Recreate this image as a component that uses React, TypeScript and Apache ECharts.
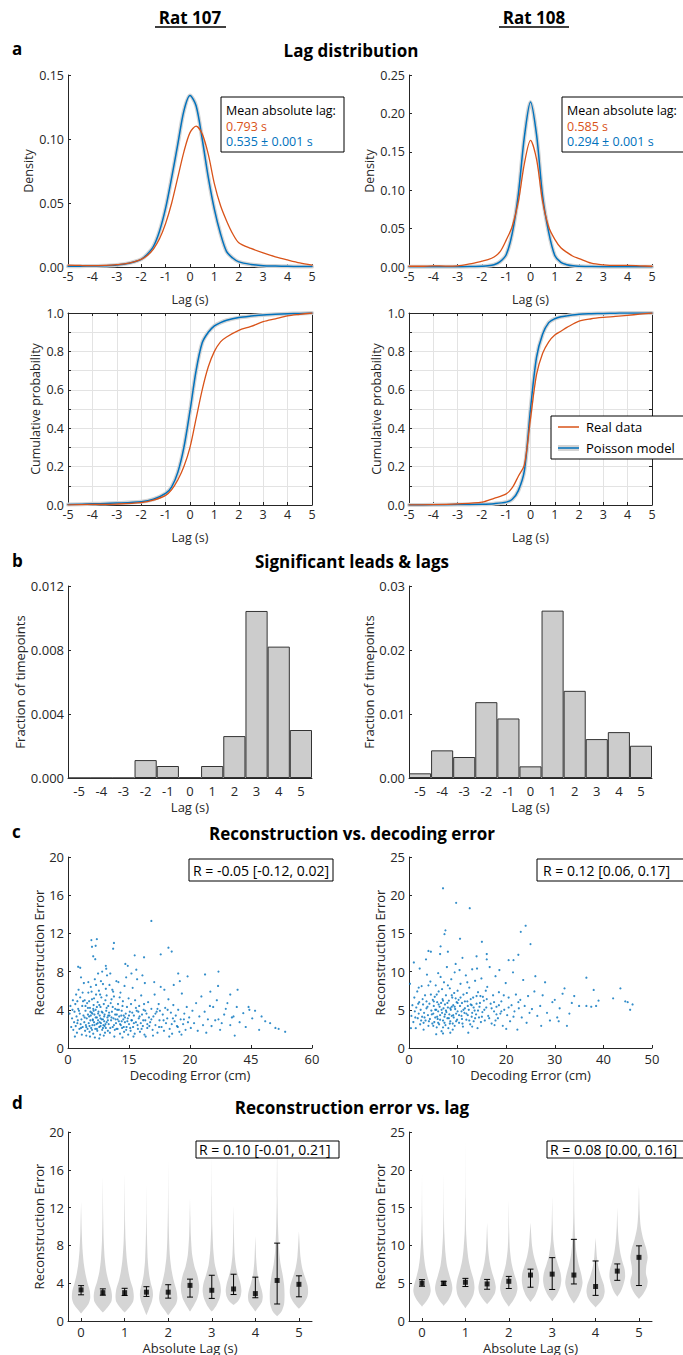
import React, { useEffect, useRef } from "react";
import * as echarts from "echarts";

const FONT = "'Open Sans', 'Noto Sans', sans-serif";
const AX = "#262626";
const BLUE = "#0072BD";
const ORANGE = "#D95319";
const BAND = "#d4d4d4";
const VIOLIN = "#d5d5d5";

// ---------- Panel a: lag density ----------
const densityLag = [-5, -4.5, -4, -3.5, -3, -2.5, -2, -1.75, -1.5, -1.25, -1, -0.75, -0.5, -0.25, 0, 0.25, 0.5, 0.75, 1, 1.25, 1.5, 1.75, 2, 2.5, 3, 3.5, 4, 4.5, 5];
const density107Model = [0.0005, 0.0006, 0.0008, 0.001, 0.0015, 0.003, 0.006, 0.01, 0.016, 0.028, 0.046, 0.07, 0.096, 0.122, 0.134, 0.126, 0.1, 0.07, 0.045, 0.026, 0.012, 0.007, 0.004, 0.002, 0.001, 0.0007, 0.0005, 0.0004, 0.0003];
const density107Real = [0.0015, 0.0012, 0.001, 0.0012, 0.0018, 0.003, 0.006, 0.009, 0.014, 0.022, 0.034, 0.05, 0.07, 0.09, 0.105, 0.11, 0.104, 0.088, 0.065, 0.048, 0.036, 0.026, 0.019, 0.0145, 0.011, 0.008, 0.0055, 0.0032, 0.0015];
const density108Model = [0.0003, 0.0003, 0.0003, 0.0003, 0.0004, 0.0005, 0.001, 0.0015, 0.003, 0.007, 0.016, 0.044, 0.095, 0.17, 0.215, 0.172, 0.092, 0.045, 0.015, 0.006, 0.003, 0.0015, 0.001, 0.0005, 0.0003, 0.0003, 0.0003, 0.0003, 0.0003];
const density108Real = [0.001, 0.001, 0.0015, 0.0012, 0.0015, 0.004, 0.0075, 0.0095, 0.013, 0.02, 0.035, 0.053, 0.085, 0.135, 0.165, 0.14, 0.085, 0.052, 0.036, 0.025, 0.019, 0.014, 0.011, 0.005, 0.0028, 0.002, 0.002, 0.0015, 0.001];

// ---------- Panel a: cumulative ----------
const cdfLag = [-5, -4, -3, -2, -1.5, -1, -0.75, -0.5, -0.25, 0, 0.25, 0.5, 0.75, 1, 1.25, 1.5, 2, 2.5, 3, 3.5, 4, 4.5, 5];
const cdf107Model = [0.002, 0.006, 0.01, 0.017, 0.03, 0.06, 0.095, 0.17, 0.3, 0.49, 0.7, 0.845, 0.9, 0.933, 0.95, 0.962, 0.976, 0.984, 0.99, 0.993, 0.996, 0.998, 1.0];
const cdf107Real = [0.001, 0.003, 0.005, 0.012, 0.025, 0.05, 0.08, 0.13, 0.2, 0.3, 0.45, 0.6, 0.72, 0.8, 0.85, 0.875, 0.91, 0.93, 0.955, 0.97, 0.985, 0.993, 1.0];
const cdf108Model = [0, 0.001, 0.002, 0.004, 0.007, 0.015, 0.03, 0.075, 0.18, 0.5, 0.77, 0.89, 0.95, 0.97, 0.98, 0.985, 0.993, 0.996, 0.998, 0.999, 1, 1, 1];
const cdf108Real = [0.001, 0.002, 0.006, 0.015, 0.035, 0.058, 0.09, 0.15, 0.21, 0.45, 0.68, 0.79, 0.85, 0.885, 0.905, 0.925, 0.958, 0.97, 0.977, 0.982, 0.988, 0.994, 1.0];

// ---------- Panel b: significant leads & lags ----------
const barLags = ["-5", "-4", "-3", "-2", "-1", "0", "1", "2", "3", "4", "5"];
const bar107 = [0, 0, 0, 0.00112, 0.00075, 0.00003, 0.00075, 0.00262, 0.01044, 0.00821, 0.003];
const bar108 = [0.00073, 0.00432, 0.00328, 0.01185, 0.0093, 0.00182, 0.02615, 0.01362, 0.00608, 0.00717, 0.00504];

// ---------- Panel c: reconstruction vs decoding error ----------
const cLeftXTicks = ["0", "15", "20", "45", "60"];
const scatter107: number[][] = [
  [0.6,4.4],[0.8,2.2],[1.0,3.1],[1.2,5.0],[1.3,1.9],[1.5,2.7],[1.6,3.8],[1.8,4.6],[1.9,2.3],[2.1,3.3],[2.2,1.6],[2.4,2.9],[2.5,4.1],[2.6,6.1],[2.8,2.0],[2.9,3.6],[3.0,5.3],[3.1,2.5],[3.3,3.0],[3.4,1.4],[3.5,4.4],[3.6,2.2],[3.8,3.4],[3.9,6.8],[4.0,2.7],[4.1,5.0],[4.2,1.8],[4.3,3.9],[4.4,2.4],[4.6,3.1],[4.7,4.7],[4.8,2.0],[4.9,3.5],[5.0,5.8],[0.4,3.6],[1.1,4.0],[2.0,5.6],[3.2,7.4],[1.7,1.2],[4.5,1.3],
  [5.1,2.6],[5.2,3.3],[5.3,1.7],[5.4,4.2],[5.5,2.9],[5.6,6.4],[5.7,2.1],[5.8,3.7],[5.9,5.1],[6.0,2.4],[6.1,3.0],[6.2,1.5],[6.3,4.5],[6.4,2.7],[6.5,3.5],[6.6,7.2],[6.7,2.0],[6.8,4.0],[6.9,5.6],[7.0,2.5],[7.1,3.2],[7.2,1.8],[7.3,4.8],[7.4,2.9],[7.5,3.8],[7.6,6.0],[7.7,2.2],[7.8,3.4],[7.9,1.4],[8.0,4.3],[8.1,2.6],[8.2,5.3],[8.3,3.0],[8.4,1.9],[8.5,3.7],[8.6,6.7],[8.7,2.4],[8.8,4.6],[8.9,2.8],[9.0,3.5],[9.1,1.6],[9.2,5.0],[9.3,2.1],[9.4,3.9],[9.5,2.7],[9.6,7.6],[9.7,3.2],[9.8,1.8],[9.9,4.4],[5.4,1.2],[6.6,1.1],[7.7,1.0],[8.8,1.3],[5.8,5.9],[6.9,6.6],[7.4,7.8],[8.4,8.0],[9.3,6.2],[5.2,4.9],[6.3,3.9],[7.8,2.7],[9.0,2.3],[8.0,3.1],[6.0,3.6],[7.1,4.3],
  [10.0,2.5],[10.2,3.4],[10.3,1.6],[10.5,4.7],[10.6,2.9],[10.8,3.8],[10.9,6.1],[11.0,2.2],[11.2,3.1],[11.3,5.4],[11.5,1.9],[11.6,4.1],[11.8,2.6],[11.9,7.0],[12.0,3.5],[12.2,2.0],[12.3,4.6],[12.5,2.8],[12.6,3.3],[12.8,1.5],[12.9,5.8],[13.0,2.4],[13.2,3.9],[13.3,2.1],[13.5,4.9],[13.6,3.0],[13.8,1.7],[13.9,6.5],[14.0,2.7],[14.2,3.6],[14.4,2.2],[14.5,4.3],[14.7,3.1],[14.8,1.4],[14.9,5.2],[10.4,7.8],[11.4,1.2],[12.4,6.9],[13.4,1.1],[14.3,7.4],[10.7,5.1],[12.1,4.0],[13.7,3.4],[11.7,3.0],
  [15.0,2.5],[15.2,3.8],[15.4,1.8],[15.5,4.6],[15.7,2.9],[15.9,6.3],[16.0,2.2],[16.2,3.4],[16.4,1.5],[16.5,5.0],[16.7,2.7],[16.9,3.9],[17.0,7.2],[17.2,2.0],[17.4,3.1],[17.5,4.4],[17.7,1.7],[17.9,2.6],[18.0,5.5],[18.2,3.5],[18.4,2.3],[18.6,4.0],[18.8,1.4],[18.9,6.8],[19.0,2.9],[19.3,3.6],[19.5,2.1],[19.7,4.8],[19.9,3.2],[15.6,7.8],[16.8,8.2],[18.3,7.6],[19.1,1.2],[16.1,1.2],
  [20.2,2.7],[20.5,4.1],[20.8,1.9],[21.0,3.3],[21.3,5.6],[21.5,2.4],[21.8,3.8],[22.0,1.6],[22.3,4.6],[22.5,2.9],[22.8,6.4],[23.0,2.2],[23.3,3.5],[23.6,1.8],[23.9,4.2],[24.1,2.6],[24.4,3.1],[24.7,5.1],[25.0,2.0],[25.3,3.7],[25.6,1.5],[25.9,4.5],[26.2,2.8],[26.5,3.4],[26.8,2.3],[27.1,4.0],[27.4,1.7],[27.7,3.0],[28.0,5.7],[28.3,2.5],[28.6,3.6],[28.9,1.9],[29.2,4.3],[29.5,2.7],[29.8,3.2],[21.2,6.9],[23.7,6.1],[26.0,6.6],[20.9,1.3],[24.9,1.2],[27.9,1.4],[22.6,3.9],[25.5,2.5],
  [30.2,2.1],[30.6,3.9],[31.0,2.6],[31.5,4.7],[31.9,1.8],[32.3,3.3],[32.8,5.4],[33.2,2.4],[33.6,3.8],[34.0,1.6],[34.4,3.0],[34.9,4.4],[35.3,2.3],[35.7,4.3],[36.2,2.9],[36.6,5.0],[37.0,3.0],[37.4,1.9],[37.8,2.6],[38.4,3.5],[38.8,4.1],[39.2,4.7],[39.9,2.4],[40.3,3.2],[40.7,3.3],[41.0,1.3],[41.5,4.3],[41.7,6.1],[42.2,2.7],[43.1,3.65],[43.7,2.2],[44.4,4.3],[44.6,4.0],[45.3,3.1],[46.0,3.9],[47.0,1.9],[47.6,3.3],[48.5,2.8],[49.7,2.6],[51.0,2.1],[51.8,2.0],[53.4,1.7],[39.9,5.6],[36.9,6.5],[35.0,5.9],
  [5.75,11.3],[7.1,11.4],[5.9,10.6],[6.8,10.7],[11.3,11.0],[11.1,10.4],[20.5,13.3],[24.7,10.5],[25.5,10.1],[22.8,9.8],[16.4,9.7],[18.7,9.5],[6.2,9.6],[6.7,9.3],[9.3,8.6],[9.4,8.3],[2.5,8.5],[3.0,8.4],[14.1,8.8],[14.7,8.6],[33.7,7.7],[37.0,8.0],[29.4,7.5],[27.5,7.0],[27.1,7.8],
  [2.3,2.6],[2.7,3.9],[3.2,2.1],[3.7,4.9],[4.1,3.2],[4.5,2.2],[4.9,4.2],[5.3,2.3],[5.6,3.4],[5.9,1.9],[6.2,4.1],[6.5,2.4],[6.8,3.2],[7.1,2.0],[7.4,3.6],[7.7,4.5],[8.0,2.3],[8.3,3.8],[8.6,2.1],[8.9,3.3],[9.2,2.5],[9.5,4.2],[9.8,2.9],[10.1,3.7],[10.4,2.1],[10.7,3.2],[11.0,4.3],[11.3,2.4],[11.6,3.5],[11.9,2.0],[12.2,3.0],[12.5,4.0],[12.8,2.5],[13.1,3.4],[13.4,4.4],[13.7,2.2],[14.0,3.2],[14.3,1.9],[14.6,2.8],[15.0,3.4],[15.3,2.1],[15.8,3.7],[16.2,2.6],[16.7,4.2],[17.1,2.4],[17.6,3.3],[18.1,2.0],[18.5,2.9],[19.0,3.9],[19.5,2.5],[20.5,3.0],[21.5,3.6],[22.4,2.2],[23.5,2.9],[24.5,4.0],[25.8,3.1],[27.0,2.2],[28.5,3.0],[6.4,5.2],[7.9,5.6],[9.5,5.5],[11.1,5.9],[12.7,5.3],[5.0,6.9],[8.1,7.0],[10.2,6.6],[3.6,5.8],[2.3,4.9],[6.1,2.9],[7.3,2.6],[8.6,3.0],[9.9,3.4],[4.3,4.4],[5.5,3.8],[13.2,2.8],[15.6,2.9],[17.3,3.8],[18.7,4.6],[20.0,2.3],[22.0,4.1],
];
const scatter108: number[][] = [
  [0.2,8.4],[0.5,4.2],[0.7,5.6],[0.9,3.4],[1.1,6.6],[1.2,4.8],[1.4,2.6],[1.5,5.3],[1.7,7.4],[1.8,3.9],[2.0,4.5],[2.1,6.0],[2.3,3.1],[2.4,5.0],[2.6,8.1],[2.7,4.1],[2.9,5.7],[3.0,2.4],[3.1,4.6],[3.3,6.9],[3.4,3.6],[3.6,5.2],[3.7,9.6],[3.9,4.3],[4.0,2.9],[4.2,5.8],[4.3,3.8],[4.5,7.0],[4.6,4.9],[4.8,3.2],[4.9,6.3],[1.0,11.2],[2.2,10.4],[3.5,11.6],[4.4,8.7],[0.4,2.6],
  [5.0,4.5],[5.1,5.5],[5.2,3.4],[5.3,6.7],[5.4,4.0],[5.5,8.2],[5.6,5.0],[5.7,2.7],[5.8,6.0],[5.9,3.8],[6.0,4.8],[6.1,7.4],[6.2,3.1],[6.3,5.4],[6.4,4.3],[6.5,9.3],[6.6,5.9],[6.7,2.2],[6.8,4.6],[6.9,6.4],[7.0,3.6],[7.1,5.2],[7.2,8.6],[7.3,4.1],[7.4,5.7],[7.5,3.0],[7.6,6.9],[7.7,4.7],[7.8,10.6],[7.9,3.9],[8.0,5.3],[8.1,2.6],[8.2,6.2],[8.3,4.4],[8.4,7.8],[8.5,3.5],[8.6,5.0],[8.7,9.0],[8.8,4.2],[8.9,6.6],[9.0,3.2],[9.1,5.6],[9.2,4.0],[9.3,7.2],[9.4,2.9],[9.5,5.1],[9.6,11.0],[9.7,4.5],[9.8,6.0],[9.9,3.7],[5.6,1.8],[7.0,1.9],[8.5,2.0],[6.4,12.3],[8.0,12.6],[9.4,9.9],[6.0,3.3],[7.4,4.4],[8.8,5.4],
  [10.0,4.8],[10.2,6.3],[10.3,3.3],[10.5,5.5],[10.6,8.4],[10.8,4.2],[10.9,5.9],[11.1,2.8],[11.2,7.0],[11.4,4.6],[11.5,5.2],[11.7,9.5],[11.8,3.7],[12.0,6.1],[12.1,4.3],[12.3,5.0],[12.4,7.9],[12.6,3.1],[12.7,5.7],[12.9,4.1],[13.0,10.3],[13.2,6.6],[13.3,3.5],[13.5,4.9],[13.6,8.8],[13.8,4.4],[13.9,5.8],[14.1,2.6],[14.2,7.3],[14.4,4.0],[14.5,5.4],[14.7,6.8],[14.8,3.4],[14.9,9.1],[11.0,11.8],[12.2,2.0],[13.9,12.0],[10.4,10.2],
  [15.1,4.7],[15.4,6.2],[15.6,3.6],[15.9,5.3],[16.1,8.0],[16.3,4.2],[16.6,10.6],[16.8,5.8],[17.0,3.2],[17.3,6.9],[17.5,4.8],[17.8,9.4],[18.0,5.4],[18.3,3.9],[18.5,7.3],[18.8,4.5],[19.0,6.1],[19.3,2.9],[19.6,5.0],[19.9,8.5],[20.2,4.3],[20.5,6.6],[20.8,3.5],[21.1,5.6],[21.4,9.9],[21.7,4.8],[22.0,7.0],[22.3,2.4],[22.6,5.2],[22.9,6.3],[23.2,4.0],[23.5,8.9],[23.8,5.5],[24.2,3.3],[24.5,6.8],[24.8,4.6],[16.0,11.6],[18.6,10.2],[20.0,2.5],[17.6,3.0],[15.8,7.5],
  [25.3,5.1],[25.8,7.4],[26.0,9.4],[26.4,4.2],[27.0,5.5],[27.5,6.9],[28.0,8.6],[28.4,4.6],[29.0,3.6],[29.5,6.0],[30.0,6.3],[30.5,4.0],[31.0,5.2],[31.6,7.1],[32.0,7.8],[32.5,2.9],[33.0,4.5],[33.5,5.9],[34.0,6.8],[35.0,5.5],[36.5,9.2],[36.5,5.5],[37.5,5.4],[38.0,7.6],[38.5,5.5],[39.0,6.2],[42.0,6.5],[43.5,7.8],[44.5,6.1],[45.0,6.0],[45.5,5.0],[46.0,5.7],[30.8,3.5],[27.2,2.9],
  [7.0,20.9],[9.7,19.0],[12.5,18.3],[24.0,16.0],[23.0,15.2],[7.5,15.4],[7.3,14.9],[15.0,13.9],[10.5,14.3],[4.0,12.7],[4.5,12.6],[6.5,13.3],[25.0,13.6],[22.5,12.2],[16.0,12.3],[20.5,11.5],[21.5,11.5],
  [1.3,4.0],[1.9,5.8],[2.5,3.6],[2.8,6.4],[3.2,4.0],[3.8,5.4],[4.1,3.5],[4.7,4.4],[5.1,6.1],[5.4,5.0],[5.8,4.1],[6.1,5.7],[6.4,3.7],[6.7,5.0],[7.0,6.2],[7.3,3.3],[7.6,4.9],[7.9,5.9],[8.2,3.9],[8.5,5.2],[8.8,6.9],[9.1,4.3],[9.4,5.4],[9.7,3.5],[10.0,5.9],[10.3,4.3],[10.6,6.6],[10.9,3.8],[11.2,5.0],[11.5,6.1],[11.8,4.5],[12.1,5.5],[12.4,3.6],[12.7,6.4],[13.0,4.6],[13.3,5.3],[13.6,3.9],[13.9,6.8],[14.2,4.9],[14.6,5.9],[15.0,4.1],[15.5,5.0],[16.0,6.4],[16.5,3.9],[17.0,5.2],[17.5,6.0],[18.0,4.4],[18.5,5.6],[19.0,4.8],[19.5,6.9],[20.5,5.3],[21.5,4.1],[22.5,6.0],[2.0,7.9],[4.0,8.2],[6.0,9.8],[8.0,8.2],[10.0,7.5],[12.0,8.6],[14.0,10.4],[3.0,3.3],[5.0,2.9],[7.0,2.7],[9.0,2.4],[11.0,3.2],[13.0,2.8],[6.8,7.7],[9.6,6.5],[11.9,7.2],[5.7,7.0],[3.6,6.1],[8.4,3.2],[10.8,4.8],[12.9,5.6],[15.2,6.7],[17.8,3.6],
];

// ---------- Panel d: reconstruction error vs lag (violins) ----------
const violinLag = [0, 0.5, 1, 1.5, 2, 2.5, 3, 3.5, 4, 4.5, 5];
const violin107Profiles: number[][][] = [
  [[0.8,0],[1.3,0.09],[1.8,0.17],[2.4,0.21],[3.2,0.2],[4.0,0.15],[5,0.1],[6,0.065],[7.5,0.035],[9.5,0.015],[12.6,0]],
  [[0.9,0],[1.4,0.1],[2.0,0.19],[2.6,0.21],[3.3,0.19],[4.2,0.13],[5.2,0.08],[6.5,0.045],[8.5,0.02],[11,0.008],[15.3,0]],
  [[0.9,0],[1.4,0.1],[2.0,0.19],[2.6,0.21],[3.4,0.19],[4.3,0.13],[5.3,0.085],[6.5,0.05],[8.5,0.022],[11,0.008],[15.6,0]],
  [[0.6,0],[1.3,0.06],[2.0,0.12],[2.7,0.15],[3.3,0.14],[4.0,0.1],[5,0.06],[6.5,0.03],[9,0.012],[11,0.005],[14.4,0]],
  [[0.6,0],[1.2,0.09],[1.8,0.18],[2.4,0.21],[3.2,0.19],[4.2,0.13],[5.3,0.08],[6.8,0.04],[9,0.018],[12,0.006],[17,0]],
  [[1.0,0],[1.6,0.08],[2.3,0.16],[3.0,0.2],[3.8,0.21],[4.8,0.17],[5.8,0.1],[7,0.05],[9,0.02],[11,0.008],[13,0]],
  [[1.0,0],[1.6,0.1],[2.4,0.18],[3.2,0.21],[4.0,0.19],[4.9,0.13],[6,0.07],[7.5,0.035],[10,0.012],[13,0.005],[17.5,0]],
  [[1.7,0],[2.1,0.1],[2.6,0.16],[3.2,0.18],[3.9,0.16],[4.7,0.11],[5.6,0.06],[7,0.025],[9,0.01],[12.3,0]],
  [[1.0,0],[1.5,0.08],[2.0,0.15],[2.6,0.17],[3.2,0.15],[4.0,0.1],[5,0.05],[6.5,0.02],[9,0]],
  [[0.5,0],[1.0,0.1],[1.8,0.16],[2.8,0.17],[3.8,0.16],[4.8,0.13],[6,0.08],[7.5,0.045],[10,0.02],[13,0.008],[19.5,0]],
  [[1.3,0],[1.8,0.1],[2.4,0.18],[3.0,0.21],[3.7,0.2],[4.5,0.15],[5.5,0.08],[6.8,0.035],[9.5,0]],
];
const violin107Mean = [3.29, 3.0, 3.0, 3.05, 3.05, 3.77, 3.25, 3.39, 2.9, 4.29, 3.88];
const violin107Lo = [2.77, 2.73, 2.7, 2.6, 2.42, 2.53, 2.39, 2.8, 2.46, 1.8, 2.56];
const violin107Hi = [3.74, 3.4, 3.46, 3.63, 3.84, 4.43, 4.84, 4.95, 4.64, 8.24, 4.78];

const violin108Profiles: number[][][] = [
  [[1.9,0],[2.6,0.1],[3.3,0.17],[4.0,0.2],[4.8,0.18],[5.8,0.13],[7,0.08],[8.5,0.045],[11,0.018],[14,0.006],[19.5,0]],
  [[2.0,0],[2.7,0.1],[3.5,0.17],[4.3,0.2],[5.1,0.18],[6.1,0.13],[7.3,0.075],[9,0.04],[11.5,0.015],[14.5,0.005],[19.5,0]],
  [[1.7,0],[2.5,0.1],[3.4,0.18],[4.4,0.21],[5.4,0.19],[6.6,0.13],[8,0.075],[9.7,0.04],[12,0.015],[16,0.005],[24,0]],
  [[2.2,0],[2.9,0.1],[3.7,0.18],[4.5,0.2],[5.4,0.17],[6.5,0.11],[7.8,0.06],[9.5,0.025],[13,0]],
  [[1.9,0],[2.7,0.1],[3.5,0.17],[4.3,0.2],[5.2,0.18],[6.3,0.12],[7.6,0.065],[9.5,0.025],[12,0.008],[16,0]],
  [[2.5,0],[3.3,0.1],[4.3,0.17],[5.3,0.2],[6.3,0.19],[7.3,0.14],[8.5,0.08],[10,0.035],[13,0]],
  [[2.6,0],[3.4,0.1],[4.4,0.18],[5.4,0.21],[6.4,0.19],[7.5,0.13],[8.8,0.07],[10.5,0.03],[13,0.01],[16.5,0]],
  [[2.3,0],[3.2,0.1],[4.2,0.17],[5.1,0.2],[6.2,0.17],[7.5,0.11],[9,0.06],[11,0.03],[14,0.012],[18,0.005],[22,0]],
  [[1.8,0],[2.4,0.1],[3.1,0.18],[3.9,0.21],[4.8,0.19],[5.8,0.13],[7,0.07],[8.5,0.03],[11,0]],
  [[3.2,0],[3.9,0.08],[4.8,0.14],[5.8,0.18],[6.8,0.17],[7.8,0.12],[9,0.07],[10.5,0.035],[12.5,0.012],[15,0]],
  [[2.9,0],[3.6,0.1],[4.5,0.18],[5.3,0.2],[6.3,0.16],[7.3,0.17],[8.4,0.2],[9.5,0.17],[10.8,0.1],[12.5,0.04],[14.5,0.015],[18,0]],
];
const violin108Mean = [4.99, 5.0, 5.12, 4.9, 5.25, 6.08, 6.2, 6.08, 4.56, 6.6, 8.42];
const violin108Lo = [4.6, 4.7, 4.56, 4.2, 4.3, 4.47, 4.17, 4.9, 3.39, 5.38, 4.69];
const violin108Hi = [5.47, 5.25, 5.64, 5.5, 5.9, 6.86, 8.38, 10.8, 7.94, 7.55, 9.94];

const violinTicks = [0, 1, 2, 3, 4, 5];

// ---------- helpers ----------
const zip = (xs: number[], ys: number[]) => xs.map((x, i) => [x, ys[i]]);

function axis(type: string, gridIndex: number, o: any = {}) {
  const { axisLabel = {}, axisTick = {}, axisLine = {}, splitLine = {}, nameTextStyle = {}, ...rest } = o;
  return {
    type,
    gridIndex,
    nameLocation: "middle",
    axisLine: { show: true, onZero: false, lineStyle: { color: AX, width: 1 }, ...axisLine },
    axisTick: { show: true, inside: true, length: 3, lineStyle: { color: AX, width: 1 }, ...axisTick },
    axisLabel: { color: AX, fontSize: 12.5, fontFamily: FONT, margin: 4, ...axisLabel },
    splitLine: { show: false, ...splitLine },
    nameTextStyle: { color: AX, fontSize: 12.5, fontFamily: FONT, ...nameTextStyle },
    ...rest,
  };
}

const fix = (d: number) => (v: number) => v.toFixed(d);

function violinSeries(axisIdx: number, profiles: number[][][]) {
  return {
    type: "custom",
    xAxisIndex: axisIdx,
    yAxisIndex: axisIdx,
    silent: true,
    z: 1,
    data: violinLag.map((x) => [x, 0]),
    encode: { x: 0, y: 1 },
    renderItem: (params: any, api: any) => {
      const x = api.value(0);
      const prof = profiles[params.dataIndex];
      const left = prof.map(([y, w]) => api.coord([x - w, y]));
      const right = prof.slice().reverse().map(([y, w]) => api.coord([x + w, y]));
      return {
        type: "polygon",
        shape: { points: left.concat(right), smooth: 0.25 },
        style: { fill: VIOLIN, stroke: null },
      };
    },
  };
}

function errSeries(axisIdx: number, lo: number[], hi: number[]) {
  return {
    type: "custom",
    xAxisIndex: axisIdx,
    yAxisIndex: axisIdx,
    silent: true,
    z: 3,
    data: violinLag.map((x, i) => [x, lo[i], hi[i]]),
    encode: { x: 0, y: [1, 2] },
    renderItem: (params: any, api: any) => {
      const x = api.value(0);
      const a = api.coord([x, api.value(1)]);
      const b = api.coord([x, api.value(2)]);
      const c = 3;
      const st = { stroke: "#000", lineWidth: 1 };
      return {
        type: "group",
        children: [
          { type: "line", shape: { x1: a[0], y1: a[1], x2: b[0], y2: b[1] }, style: st },
          { type: "line", shape: { x1: a[0] - c, y1: a[1], x2: a[0] + c, y2: a[1] }, style: st },
          { type: "line", shape: { x1: b[0] - c, y1: b[1], x2: b[0] + c, y2: b[1] }, style: st },
        ],
      };
    },
  };
}

function lineS(idx: number, xs: number[], ys: number[], color: string, width: number, z = 2) {
  return {
    type: "line",
    xAxisIndex: idx,
    yAxisIndex: idx,
    data: zip(xs, ys),
    showSymbol: false,
    symbol: "none",
    smooth: 0.3,
    lineStyle: { color, width, cap: "round", join: "round" },
    silent: true,
    z,
  };
}

// ---------- graphic (titles, annotations, legend) ----------
function txt(text: string, x: number, y: number, o: any = {}) {
  return {
    type: "text",
    x,
    y,
    z: 200,
    style: {
      text,
      fill: o.fill || "#000",
      fontSize: o.size || 12,
      fontWeight: o.weight || "normal",
      fontFamily: FONT,
      textAlign: o.align || "left",
      textVerticalAlign: "middle",
    },
  };
}
function box(x: number, y: number, w: number, h: number) {
  return { type: "rect", z: 150, shape: { x, y, width: w, height: h }, style: { fill: "#fff", stroke: "#000", lineWidth: 1 } };
}

const graphics: any[] = [
  txt("Rat 107", 190, 17, { size: 17, weight: "bold", align: "center" }),
  txt("Rat 108", 534, 17, { size: 17, weight: "bold", align: "center" }),
  { type: "line", z: 200, shape: { x1: 155, y1: 27, x2: 226, y2: 27 }, style: { stroke: "#000", lineWidth: 1.5 } },
  { type: "line", z: 200, shape: { x1: 499, y1: 27, x2: 569, y2: 27 }, style: { stroke: "#000", lineWidth: 1.5 } },
  txt("a", 12, 48, { size: 17, weight: "bold" }),
  txt("Lag distribution", 351, 50, { size: 17, weight: "bold", align: "center" }),
  txt("b", 12, 560, { size: 17, weight: "bold" }),
  txt("Significant leads & lags", 352, 561, { size: 17, weight: "bold", align: "center" }),
  txt("c", 12, 831, { size: 17, weight: "bold" }),
  txt("Reconstruction vs. decoding error", 352, 833, { size: 17, weight: "bold", align: "center" }),
  txt("d", 12, 1102, { size: 17, weight: "bold" }),
  txt("Reconstruction error vs. lag", 352, 1107, { size: 17, weight: "bold", align: "center" }),

  box(221, 97, 123, 55),
  txt("Mean absolute lag:", 226, 110, { size: 12.5 }),
  txt("0.793 s", 226, 126, { fill: ORANGE, size: 12.5 }),
  txt("0.535 ± 0.001 s", 226, 141, { fill: BLUE, size: 12.5 }),
  box(562, 97, 125, 55),
  txt("Mean absolute lag:", 567, 110, { size: 12.5 }),
  txt("0.585 s", 567, 126, { fill: ORANGE, size: 12.5 }),
  txt("0.294 ± 0.001 s", 567, 141, { fill: BLUE, size: 12.5 }),

  box(551, 416, 140, 43),
  { type: "line", z: 200, shape: { x1: 558, y1: 427, x2: 579, y2: 427 }, style: { stroke: ORANGE, lineWidth: 1.5 } },
  txt("Real data", 586, 427, { size: 13 }),
  { type: "rect", z: 200, shape: { x: 558, y: 445, width: 21, height: 6 }, style: { fill: BAND } },
  { type: "line", z: 201, shape: { x1: 558, y1: 448, x2: 579, y2: 448 }, style: { stroke: BLUE, lineWidth: 1.5 } },
  txt("Poisson model", 586, 448, { size: 13 }),

  box(189, 859, 144, 22),
  txt("R = -0.05 [-0.12, 0.02]", 193, 870.5, { size: 14 }),
  box(537, 859, 150, 22),
  txt("R = 0.12 [0.06, 0.17]", 543, 870.5, { size: 14 }),

  box(196, 1141, 143, 17),
  txt("R = 0.10 [-0.01, 0.21]", 199, 1149.5, { size: 14 }),
  box(547, 1141, 140, 17),
  txt("R = 0.08 [0.00, 0.16]", 550, 1149.5, { size: 14 }),
];

// ---------- option ----------
const grids = [
  { left: 68, top: 75, width: 244, height: 192 },
  { left: 409, top: 75, width: 243, height: 192 },
  { left: 68, top: 313, width: 244, height: 192 },
  { left: 409, top: 313, width: 243, height: 192 },
  { left: 68, top: 586, width: 244, height: 192 },
  { left: 409, top: 586, width: 243, height: 192 },
  { left: 68, top: 857, width: 244, height: 191 },
  { left: 409, top: 857, width: 243, height: 191 },
  { left: 68, top: 1132, width: 244, height: 193 },
  { left: 409, top: 1132, width: 243, height: 193 },
];

const gridSplit = { show: true, lineStyle: { color: "#e3e3e3", width: 1 } };
const cdfLabel = (v: number) => (Math.round(v * 10) % 2 === 0 ? v.toFixed(1) : "");
const L13 = { fontSize: 13 };

const xAxes = [
  axis("value", 0, { min: -5, max: 5, interval: 1, name: "Lag (s)", nameGap: 26, axisLabel: { margin: 3 } }),
  axis("value", 1, { min: -5, max: 5, interval: 1, name: "Lag (s)", nameGap: 26, axisLabel: { margin: 3 } }),
  axis("value", 2, { min: -5, max: 5, interval: 1, name: "Lag (s)", nameGap: 26, axisLabel: { margin: 3 }, splitLine: gridSplit }),
  axis("value", 3, { min: -5, max: 5, interval: 1, name: "Lag (s)", nameGap: 26, axisLabel: { margin: 3 }, splitLine: gridSplit }),
  axis("category", 4, { data: barLags, name: "Lag (s)", nameGap: 22, axisTick: { show: false }, axisLabel: { margin: 6, ...L13 }, nameTextStyle: L13 }),
  axis("category", 5, { data: barLags, name: "Lag (s)", nameGap: 22, axisTick: { show: false }, axisLabel: { margin: 6, ...L13 }, nameTextStyle: L13 }),
  axis("value", 6, { min: 0, max: 60, interval: 15, name: "Decoding Error (cm)", nameGap: 20, nameTextStyle: L13, axisLabel: { margin: 4, ...L13, formatter: (v: number) => cLeftXTicks[Math.round(v / 15)] } }),
  axis("value", 7, { min: 0, max: 50, interval: 10, name: "Decoding Error (cm)", nameGap: 20, nameTextStyle: L13, axisLabel: { margin: 4, ...L13 } }),
  axis("value", 8, { min: -0.3, max: 5.3, name: "Absolute Lag (s)", nameGap: 20, nameTextStyle: L13, axisLabel: { margin: 4, ...L13, customValues: violinTicks }, axisTick: { customValues: violinTicks } }),
  axis("value", 9, { min: -0.3, max: 5.3, name: "Absolute Lag (s)", nameGap: 20, nameTextStyle: L13, axisLabel: { margin: 4, ...L13, customValues: violinTicks }, axisTick: { customValues: violinTicks } }),
  axis("value", 2, { min: -5, max: 5, interval: 1, position: "top", axisLabel: { show: false } }),
  axis("value", 3, { min: -5, max: 5, interval: 1, position: "top", axisLabel: { show: false } }),
];

const yAxes = [
  axis("value", 0, { min: 0, max: 0.15, interval: 0.05, name: "Density", nameGap: 32, axisLabel: { formatter: fix(2) } }),
  axis("value", 1, { min: 0, max: 0.25, interval: 0.05, name: "Density", nameGap: 32, axisLabel: { formatter: fix(2) } }),
  axis("value", 2, { min: 0, max: 1, interval: 0.1, name: "Cumulative probability", nameGap: 26, axisLabel: { formatter: cdfLabel }, splitLine: gridSplit }),
  axis("value", 3, { min: 0, max: 1, interval: 0.1, name: "Cumulative probability", nameGap: 26, axisLabel: { formatter: cdfLabel }, splitLine: gridSplit }),
  axis("value", 4, { min: 0, max: 0.012, interval: 0.004, name: "Fraction of timepoints", nameGap: 40, nameTextStyle: L13, axisLabel: { formatter: fix(3), ...L13 } }),
  axis("value", 5, { min: 0, max: 0.03, interval: 0.01, name: "Fraction of timepoints", nameGap: 34, nameTextStyle: L13, axisLabel: { formatter: fix(2), ...L13 } }),
  axis("value", 6, { min: 0, max: 20, interval: 4, name: "Reconstruction Error", nameGap: 22, nameTextStyle: L13, axisLabel: L13 }),
  axis("value", 7, { min: 0, max: 25, interval: 5, name: "Reconstruction Error", nameGap: 22, nameTextStyle: L13, axisLabel: L13 }),
  axis("value", 8, { min: 0, max: 20, interval: 4, name: "Reconstruction Error", nameGap: 22, nameTextStyle: L13, axisLabel: L13 }),
  axis("value", 9, { min: 0, max: 25, interval: 5, name: "Reconstruction Error", nameGap: 22, nameTextStyle: L13, axisLabel: L13 }),
  axis("value", 2, { min: 0, max: 1, interval: 0.1, position: "right", axisLabel: { show: false } }),
  axis("value", 3, { min: 0, max: 1, interval: 0.1, position: "right", axisLabel: { show: false } }),
];

const barStyle = { color: "#cccccc", borderColor: "#333", borderWidth: 1 };

const series: any[] = [
  lineS(0, densityLag, density107Model, BAND, 4, 1),
  lineS(0, densityLag, density107Model, BLUE, 1.5),
  lineS(0, densityLag, density107Real, ORANGE, 1.3, 3),
  lineS(1, densityLag, density108Model, BAND, 4, 1),
  lineS(1, densityLag, density108Model, BLUE, 1.5),
  lineS(1, densityLag, density108Real, ORANGE, 1.3, 3),
  lineS(2, cdfLag, cdf107Model, BAND, 4, 1),
  lineS(2, cdfLag, cdf107Model, BLUE, 1.5),
  lineS(2, cdfLag, cdf107Real, ORANGE, 1.3, 3),
  lineS(3, cdfLag, cdf108Model, BAND, 4, 1),
  lineS(3, cdfLag, cdf108Model, BLUE, 1.5),
  lineS(3, cdfLag, cdf108Real, ORANGE, 1.3, 3),
  { type: "bar", xAxisIndex: 4, yAxisIndex: 4, data: bar107, barWidth: "100%", itemStyle: barStyle, silent: true },
  { type: "bar", xAxisIndex: 5, yAxisIndex: 5, data: bar108, barWidth: "100%", itemStyle: barStyle, silent: true },
  { type: "scatter", xAxisIndex: 6, yAxisIndex: 6, data: scatter107, symbolSize: 2.2, itemStyle: { color: BLUE }, silent: true },
  { type: "scatter", xAxisIndex: 7, yAxisIndex: 7, data: scatter108, symbolSize: 2.2, itemStyle: { color: BLUE }, silent: true },
  violinSeries(8, violin107Profiles),
  violinSeries(9, violin108Profiles),
  errSeries(8, violin107Lo, violin107Hi),
  errSeries(9, violin108Lo, violin108Hi),
  { type: "scatter", xAxisIndex: 8, yAxisIndex: 8, data: zip(violinLag, violin107Mean), symbol: "rect", symbolSize: 5, itemStyle: { color: "#000" }, z: 4, silent: true },
  { type: "scatter", xAxisIndex: 9, yAxisIndex: 9, data: zip(violinLag, violin108Mean), symbol: "rect", symbolSize: 5, itemStyle: { color: "#000" }, z: 4, silent: true },
];

const option: any = {
  animation: false,
  backgroundColor: "#fff",
  textStyle: { fontFamily: FONT },
  grid: grids,
  xAxis: xAxes,
  yAxis: yAxes,
  series,
  graphic: { elements: graphics },
};

export default function App() {
  const ref = useRef<HTMLDivElement>(null);
  useEffect(() => {
    if (!ref.current) return;
    const chart = echarts.init(ref.current, undefined, { renderer: "svg" });
    chart.setOption(option);
    return () => chart.dispose();
  }, []);
  return (
    <div
      ref={ref}
      style={{ position: "absolute", left: 0, top: 0, width: 683, height: 1355, background: "#fff" }}
    />
  );
}
